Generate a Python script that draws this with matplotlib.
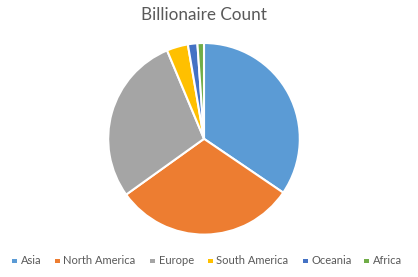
import matplotlib
matplotlib.use("Agg")
import matplotlib.pyplot as plt
from matplotlib.patches import Rectangle

regions = ["Asia", "North America", "Europe", "South America", "Oceania", "Africa"]
counts = [690, 612, 572, 72, 32, 22]
colors = ["#5B9BD5", "#ED7D31", "#A5A5A5", "#FFC000", "#4472C4", "#70AD47"]
title = "Billionaire Count"

plt.rcParams['font.family'] = ['Lato', 'DejaVu Sans']

W, H = 418, 277
fig = plt.figure(figsize=(W / 100, H / 100), dpi=100)
cx, cy, r = 204.0, 138.8, 95.8
lim = 1.02
half = r * lim
ax = fig.add_axes([(cx - half) / W, (H - cy - half) / H, 2 * half / W, 2 * half / H])
ax.pie(counts, colors=colors, startangle=90, counterclock=False,
       wedgeprops=dict(edgecolor="white", linewidth=1.5), radius=1)
ax.set_xlim(-lim, lim)
ax.set_ylim(-lim, lim)
ax.set_aspect("equal")
ax.axis("off")

fig.text(203.7 / W, 1 - 15 / H, title, ha="center", va="center", fontsize=12.3, color="#595959")

# manual legend, positions in pixels
marker_x = [12, 55, 150, 208, 303, 364]
ly = 261
for mx, c, lab in zip(marker_x, colors, regions):
    fig.patches.append(Rectangle((mx / W, (H - ly - 2) / H), 4.5 / W, 4.5 / H,
                                 transform=fig.transFigure, facecolor=c, edgecolor="none"))
    fig.text((mx + 8.5) / W, 1 - ly / H, lab, ha="left", va="center", fontsize=8, color="#595959")

fig.savefig("out.png", dpi=100, facecolor="white")
